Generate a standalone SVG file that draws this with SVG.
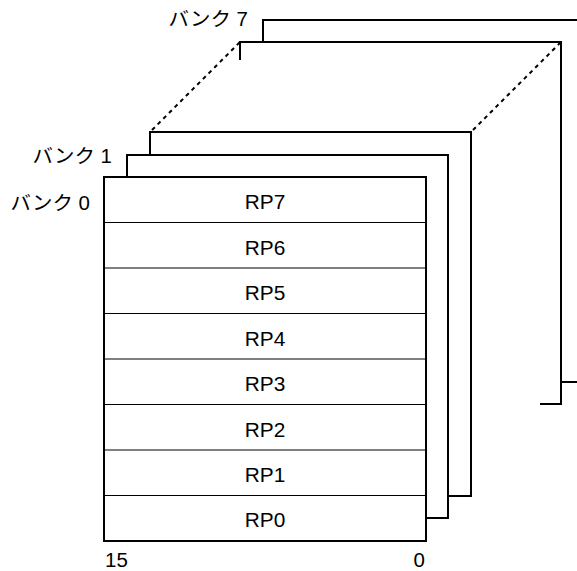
<svg xmlns="http://www.w3.org/2000/svg" width="577" height="571" viewBox="0 0 577 571">
  <style>
    .frame { fill: none; stroke: #000; stroke-width: 2; stroke-linejoin: miter; stroke-linecap: square; }
    .box { fill: #fff; stroke: #000; stroke-width: 2; }
    .row { stroke: #000; stroke-width: 1; }
    .depth { fill: none; stroke: #000; stroke-width: 2; stroke-dasharray: 4 4; }
    text { font-family: "Liberation Sans", "Noto Sans CJK JP", sans-serif; font-size: 19.5px; fill: #000; }
    .mid { text-anchor: middle; }
    .end { text-anchor: end; }
  </style>

  <rect width="577" height="571" fill="#fff"/>

  <!-- rear banks (only their visible edges) -->
  <g id="bank7">
    <polyline class="frame" points="263,41 263,20 590,20"/>
    <line class="frame" x1="562" y1="382" x2="590" y2="382"/>
    <text class="end" transform="translate(248,26) scale(1.05,1)">バンク 7</text>
  </g>
  <g id="bank6">
    <polyline class="frame" points="240,59 240,42 561,42 561,404 541,404"/>
  </g>
  <g id="bank2">
    <polyline class="frame" points="150,154 150,132 471,132 471,496 449,496"/>
  </g>
  <g id="bank1">
    <polyline class="frame" points="127,176 127,155 448,155 448,518 427,518"/>
    <text class="end" transform="translate(112,163) scale(1.05,1)">バンク 1</text>
  </g>

  <!-- depth connectors between bank 2 and bank 6 -->
  <g id="connectors">
    <line class="depth" x1="152" y1="130" x2="240" y2="42"/>
    <line class="depth" x1="473" y1="130" x2="561" y2="42"/>
  </g>

  <!-- front bank: eight 16-bit registers -->
  <g id="bank0">
    <rect class="box" x="104" y="177" width="322" height="364"/>
    <line class="row" x1="104" y1="222.5" x2="426" y2="222.5"/>
    <line class="row" x1="104" y1="268" x2="426" y2="268"/>
    <line class="row" x1="104" y1="313.5" x2="426" y2="313.5"/>
    <line class="row" x1="104" y1="359" x2="426" y2="359"/>
    <line class="row" x1="104" y1="404.5" x2="426" y2="404.5"/>
    <line class="row" x1="104" y1="450" x2="426" y2="450"/>
    <line class="row" x1="104" y1="495.5" x2="426" y2="495.5"/>
    <text class="end" transform="translate(90,209.5) scale(1.05,1)">バンク 0</text>
    <text class="mid" transform="translate(265,209) scale(1.07,1)">RP7</text>
    <text class="mid" transform="translate(265,254.5) scale(1.07,1)">RP6</text>
    <text class="mid" transform="translate(265,300) scale(1.07,1)">RP5</text>
    <text class="mid" transform="translate(265,345.5) scale(1.07,1)">RP4</text>
    <text class="mid" transform="translate(265,391) scale(1.07,1)">RP3</text>
    <text class="mid" transform="translate(265,436.5) scale(1.07,1)">RP2</text>
    <text class="mid" transform="translate(265,482) scale(1.07,1)">RP1</text>
    <text class="mid" transform="translate(265,526.5) scale(1.07,1)">RP0</text>
  </g>

  <!-- bit numbering -->
  <g id="bits">
    <text transform="translate(105,567) scale(1.05,1)">15</text>
    <text class="end" transform="translate(425,567) scale(1.05,1)">0</text>
  </g>
</svg>
